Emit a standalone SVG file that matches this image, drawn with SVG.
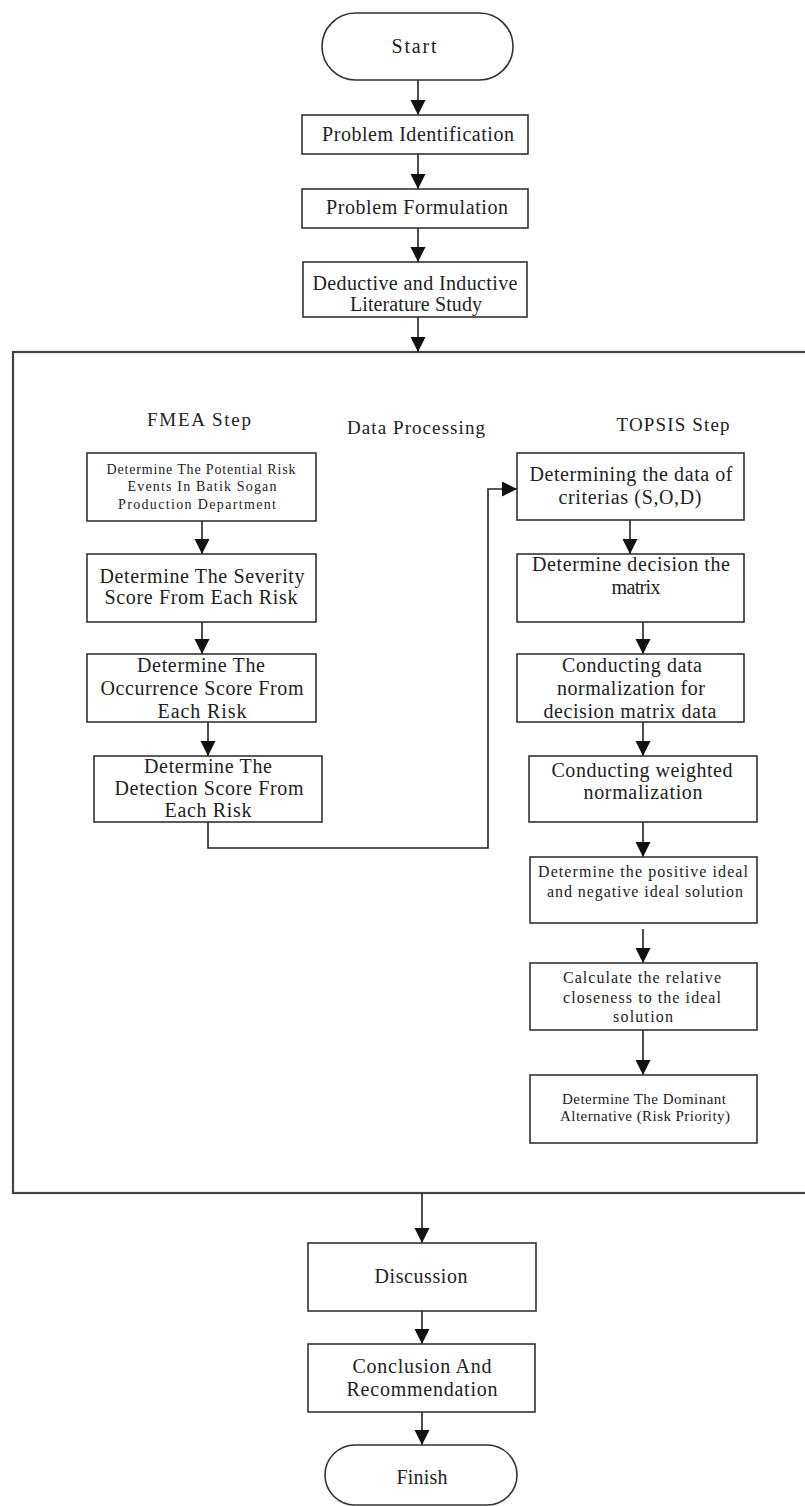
<svg xmlns="http://www.w3.org/2000/svg" width="805" height="1506" viewBox="0 0 805 1506">
<style>
.box{fill:#fff;stroke:#333;stroke-width:1.6}
.frame{fill:none;stroke:#444;stroke-width:2.2}
.t{font-family:"Liberation Serif","Times New Roman","DejaVu Serif",serif;fill:#222;text-anchor:middle}
.f20{font-size:20px}
.f19{font-size:19px}
.f16{font-size:16px}
.f15{font-size:15px}
.f14{font-size:14px}
.f13{font-size:13px}
.c{fill:none;stroke:#222;stroke-width:1.6}
</style>
<defs>
<marker id="ah" markerUnits="userSpaceOnUse" markerWidth="16" markerHeight="16" refX="15" refY="7.5" orient="auto">
<path d="M0,0 L15,7.5 L0,15 Z" fill="#111"/>
</marker>
</defs>
<rect width="805" height="1506" fill="#fff"/>

<g id="frame">
<rect class="frame" x="13" y="352" width="800" height="841"/>
<text class="t f19" x="416" y="434" textLength="138" lengthAdjust="spacing">Data Processing</text>
<text class="t f19" x="199" y="426" textLength="104" lengthAdjust="spacing">FMEA Step</text>
<text class="t f19" x="673" y="431" textLength="113" lengthAdjust="spacing">TOPSIS Step</text>
</g>

<g id="connectors">
<line class="c" x1="418" y1="80" x2="418" y2="115" marker-end="url(#ah)"/>
<line class="c" x1="418" y1="154" x2="418" y2="189" marker-end="url(#ah)"/>
<line class="c" x1="418" y1="228" x2="418" y2="262" marker-end="url(#ah)"/>
<line class="c" x1="418" y1="317" x2="418" y2="352" marker-end="url(#ah)"/>
<line class="c" x1="202" y1="521" x2="202" y2="554" marker-end="url(#ah)"/>
<line class="c" x1="202" y1="622" x2="202" y2="654" marker-end="url(#ah)"/>
<line class="c" x1="208" y1="722" x2="208" y2="756" marker-end="url(#ah)"/>
<polyline class="c" points="208,822 208,848 488,848 488,489 517,489" marker-end="url(#ah)"/>
<line class="c" x1="630" y1="520" x2="630" y2="554" marker-end="url(#ah)"/>
<line class="c" x1="643" y1="622" x2="643" y2="654" marker-end="url(#ah)"/>
<line class="c" x1="643" y1="722" x2="643" y2="756" marker-end="url(#ah)"/>
<line class="c" x1="643" y1="822" x2="643" y2="857" marker-end="url(#ah)"/>
<line class="c" x1="643" y1="929" x2="643" y2="963" marker-end="url(#ah)"/>
<line class="c" x1="643" y1="1030" x2="643" y2="1075" marker-end="url(#ah)"/>
<line class="c" x1="422" y1="1193" x2="422" y2="1243" marker-end="url(#ah)"/>
<line class="c" x1="422" y1="1311" x2="422" y2="1344" marker-end="url(#ah)"/>
<line class="c" x1="422" y1="1412" x2="422" y2="1445" marker-end="url(#ah)"/>
</g>

<g id="start">
<rect class="box" x="322" y="13" width="191" height="67" rx="33.5" ry="33.5"/>
<text class="t f20" x="414" y="53" textLength="45" lengthAdjust="spacing">Start</text>
</g>
<g id="problem-identification">
<rect class="box" x="302" y="115" width="226" height="39"/>
<text class="t f20" x="418" y="141" textLength="192" lengthAdjust="spacing">Problem Identification</text>
</g>
<g id="problem-formulation">
<rect class="box" x="302" y="189" width="226" height="39"/>
<text class="t f20" x="417" y="214" textLength="182" lengthAdjust="spacing">Problem Formulation</text>
</g>
<g id="literature-study">
<rect class="box" x="303" y="262" width="224" height="55"/>
<text class="t f20" x="415" y="290" textLength="205" lengthAdjust="spacing">Deductive and Inductive</text>
<text class="t f20" x="416" y="311" textLength="132" lengthAdjust="spacing">Literature Study</text>
</g>

<g id="fmea-1">
<rect class="box" x="87" y="453" width="229" height="68"/>
<text class="t f14" x="201" y="474" textLength="189" lengthAdjust="spacing">Determine The Potential Risk</text>
<text class="t f14" x="202" y="491" textLength="149" lengthAdjust="spacing">Events In Batik Sogan</text>
<text class="t f14" x="197" y="509" textLength="158" lengthAdjust="spacing">Production Department</text>
</g>
<g id="fmea-2">
<rect class="box" x="87" y="554" width="229" height="68"/>
<text class="t f20" x="202" y="583" textLength="205" lengthAdjust="spacing">Determine The Severity</text>
<text class="t f20" x="201" y="604" textLength="193" lengthAdjust="spacing">Score From Each Risk</text>
</g>
<g id="fmea-3">
<rect class="box" x="87" y="654" width="229" height="68"/>
<text class="t f20" x="201" y="672" textLength="128" lengthAdjust="spacing">Determine The</text>
<text class="t f20" x="202" y="695" textLength="203" lengthAdjust="spacing">Occurrence Score From</text>
<text class="t f20" x="202" y="718" textLength="89" lengthAdjust="spacing">Each Risk</text>
</g>
<g id="fmea-4">
<rect class="box" x="94" y="756" width="228" height="66"/>
<text class="t f20" x="208" y="773" textLength="128" lengthAdjust="spacing">Determine The</text>
<text class="t f20" x="209" y="795" textLength="189" lengthAdjust="spacing">Detection Score From</text>
<text class="t f20" x="208" y="817" textLength="87" lengthAdjust="spacing">Each Risk</text>
</g>

<g id="topsis-1">
<rect class="box" x="517" y="453" width="227" height="67"/>
<text class="t f20" x="631" y="481" textLength="203" lengthAdjust="spacing">Determining the data of</text>
<text class="t f20" x="630" y="504" textLength="143" lengthAdjust="spacing">criterias (S,O,D)</text>
</g>
<g id="topsis-2">
<rect class="box" x="517" y="554" width="227" height="68"/>
<text class="t f20" x="631" y="571" textLength="198" lengthAdjust="spacing">Determine decision the</text>
<text class="t f20" x="636" y="594" textLength="49" lengthAdjust="spacing">matrix</text>
</g>
<g id="topsis-3">
<rect class="box" x="517" y="654" width="227" height="68"/>
<text class="t f20" x="632" y="672" textLength="140" lengthAdjust="spacing">Conducting data</text>
<text class="t f20" x="631" y="695" textLength="148" lengthAdjust="spacing">normalization for</text>
<text class="t f20" x="630" y="718" textLength="173" lengthAdjust="spacing">decision matrix data</text>
</g>
<g id="topsis-4">
<rect class="box" x="529" y="756" width="228" height="66"/>
<text class="t f20" x="642" y="777" textLength="181" lengthAdjust="spacing">Conducting weighted</text>
<text class="t f20" x="643" y="799" textLength="119" lengthAdjust="spacing">normalization</text>
</g>
<g id="topsis-5">
<rect class="box" x="530" y="857" width="227" height="66"/>
<text class="t f16" x="643" y="877" textLength="210" lengthAdjust="spacing">Determine the positive ideal</text>
<text class="t f16" x="645" y="897" textLength="196" lengthAdjust="spacing">and negative ideal solution</text>
</g>
<g id="topsis-6">
<rect class="box" x="530" y="963" width="227" height="67"/>
<text class="t f16" x="642" y="983" textLength="158" lengthAdjust="spacing">Calculate the relative</text>
<text class="t f16" x="642" y="1003" textLength="158" lengthAdjust="spacing">closeness to the ideal</text>
<text class="t f16" x="643" y="1022" textLength="60" lengthAdjust="spacing">solution</text>
</g>
<g id="topsis-7">
<rect class="box" x="530" y="1075" width="227" height="68"/>
<text class="t f15" x="644" y="1104" textLength="164" lengthAdjust="spacing">Determine The Dominant</text>
<text class="t f15" x="645" y="1121" textLength="170" lengthAdjust="spacing">Alternative (Risk Priority)</text>
</g>

<g id="discussion">
<rect class="box" x="308" y="1243" width="228" height="68"/>
<text class="t f20" x="421" y="1283" textLength="93" lengthAdjust="spacing">Discussion</text>
</g>
<g id="conclusion">
<rect class="box" x="308" y="1344" width="227" height="68"/>
<text class="t f20" x="422" y="1373" textLength="139" lengthAdjust="spacing">Conclusion And</text>
<text class="t f20" x="422" y="1396" textLength="151" lengthAdjust="spacing">Recommendation</text>
</g>
<g id="finish">
<rect class="box" x="325" y="1445" width="192" height="60" rx="30" ry="30"/>
<text class="t f20" x="422" y="1484" textLength="51" lengthAdjust="spacing">Finish</text>
</g>
</svg>
